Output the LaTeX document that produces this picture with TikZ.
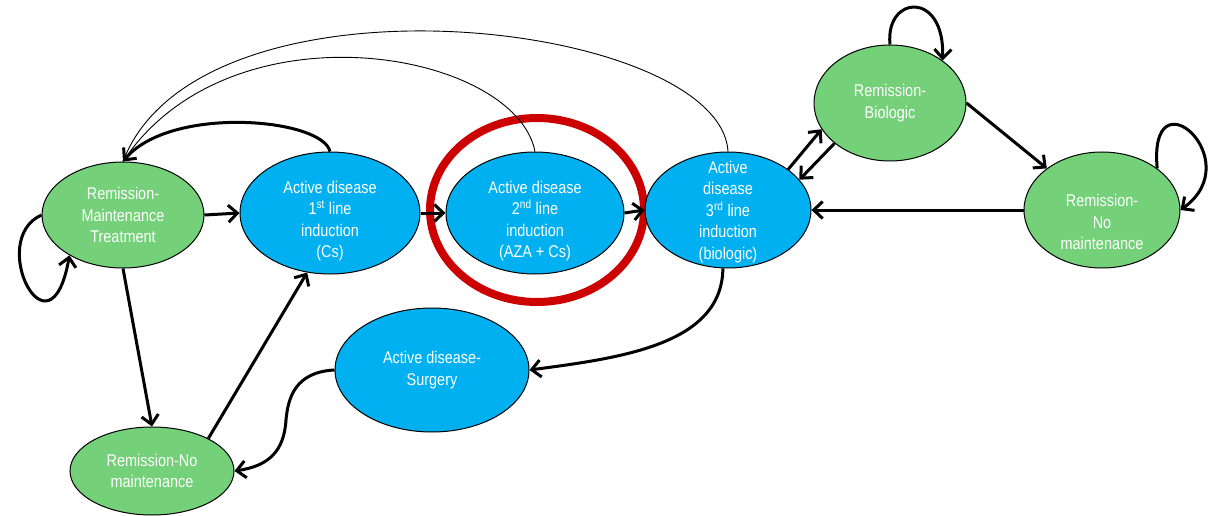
\documentclass[tikz,border=0pt]{standalone}
\usepackage{fontspec}
\setmainfont{Liberation Sans}[FakeStretch=0.85]
\usetikzlibrary{shapes.geometric,arrows.meta}
\definecolor{remgreen}{RGB}{116,209,121}
\definecolor{actblue}{RGB}{0,176,240}
\definecolor{ringred}{RGB}{204,0,0}
\begin{document}
\begin{tikzpicture}[x=1pt,y=-1pt,
  state/.style={ellipse,draw=black,line width=1pt,inner sep=0pt},
  rem/.style={state,fill=remgreen},
  act/.style={state,fill=actblue},
  lab/.style={text=white,align=center,inner sep=0pt,font=\fontsize{17}{21.5}\selectfont},
  flow/.style={line width=3pt,-{Straight Barb[length=9pt,width=17pt]}},
  back/.style={line width=0.9pt},
]
\useasboundingbox (0,0) rectangle (1221,516);

% highlight ring around the second-line induction state
\node[ellipse,draw=ringred,line width=8pt,minimum width=214pt,minimum height=184pt] (ring) at (537,210) {};

% states
\node[rem,minimum width=162pt,minimum height=106pt] (RMT)  at (123,215) {};
\node[act,minimum width=180pt,minimum height=122pt] (A1)   at (330,213) {};
\node[act,minimum width=178pt,minimum height=122pt] (A2)   at (535,213) {};
\node[act,minimum width=166pt,minimum height=116pt] (A3)   at (728,210) {};
\node[rem,minimum width=152pt,minimum height=116pt] (RB)   at (890,103) {};
\node[rem,minimum width=156pt,minimum height=116pt] (RNMr) at (1102,210) {};
\node[act,minimum width=194pt,minimum height=124pt] (Surg) at (432,370) {};
\node[rem,minimum width=164pt,minimum height=88pt]  (RNMb) at (152,471) {};

% state labels
\node[lab] (RMTt)  at (RMT)  {Remission-\\Maintenance\\Treatment};
\node[lab,yshift=-8pt] (A1t) at (A1) {Active disease\\1\textsuperscript{st} line\\induction\\(Cs)};
\node[lab,yshift=-8pt] (A2t) at (A2) {Active disease\\2\textsuperscript{nd} line\\induction\\(AZA + Cs)};
\node[lab,yshift=-2pt] (A3t) at (A3) {Active\\disease\\3\textsuperscript{rd} line\\induction\\(biologic)};
\node[lab] (RBt)   at (RB)   {Remission-\\Biologic};
\node[lab,yshift=-12pt] (RNMrt) at (RNMr) {Remission-\\No\\maintenance};
\node[lab] (Surgt) at (Surg) {Active disease-\\Surgery};
\node[lab] (RNMbt) at (RNMb) {Remission-No\\maintenance};

% transitions along the treatment line
\draw[flow] (RMT.east) -- (A1.west);
\draw[flow] (A1.east) -- (A2.west);
\draw[flow] (A2.east) -- (A3.west);
\draw[flow] (RMT.south) -- (RNMb.north);
\draw[flow] (RNMb.30) -- (A1.249);
\draw[flow] (A3.34) -- (RB.201);
\draw[flow] (RB.216) -- (A3.23);
\draw[flow] (RB.east) -- (RNMr.143);
\draw[flow] (RNMr.west) -- (A3.east);

% to and from surgery
\coordinate (sbend) at (286,420);
\draw[flow] (A3.265) .. controls (722,345) and (620,358) .. (Surg.east);
\draw[flow] (Surg.west) .. controls (295,372) and (288,398) .. (sbend)
                        .. controls (284,452) and (268,466) .. (RNMb.east);

% staying in the same state
\draw[flow] (RMT.west) .. controls (-14,240) and (50,365) .. (RMT.217);
\draw[flow] (RB.north) .. controls (885,-5) and (945,-10) .. (RB.39);
\draw[flow] (RNMr.37) .. controls (1148,70) and (1250,160) .. (RNMr.east);

% returns to maintenance
\draw[back] (A2.north) .. controls (515,50) and (230,0) .. (RMT.north);
\draw[back] (A3.north) .. controls (720,20) and (200,-40) .. (RMT.north);
\draw[flow] (A1.north) .. controls (322,118) and (170,105) .. (RMT.north);
\end{tikzpicture}
\end{document}
